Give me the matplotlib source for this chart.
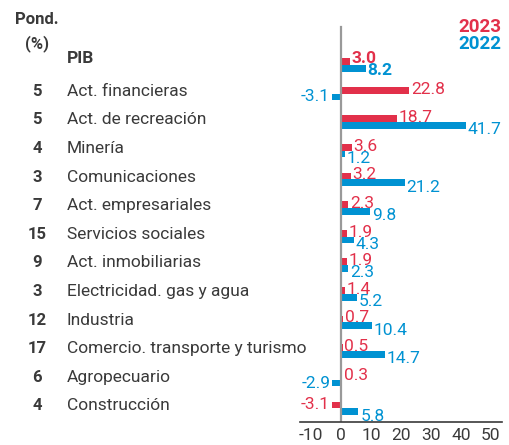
import numpy as np
import matplotlib.pyplot as plt
from matplotlib.transforms import blended_transform_factory

plt.rcParams['font.family'] = ['Roboto', 'DejaVu Sans']
plt.rcParams['axes.unicode_minus'] = False

# datos
sectores = ['PIB', 'Act. financieras', 'Act. de recreación', 'Minería', 'Comunicaciones',
            'Act. empresariales', 'Servicios sociales', 'Act. inmobiliarias',
            'Electricidad. gas y agua', 'Industria', 'Comercio. transporte y turismo',
            'Agropecuario', 'Construcción']
pond = ['', '5', '5', '4', '3', '7', '15', '9', '3', '12', '17', '6', '4']
v2023 = [3.0, 22.8, 18.7, 3.6, 3.2, 2.3, 1.9, 1.9, 1.4, 0.7, 0.5, 0.3, -3.1]
v2022 = [8.2, -3.1, 41.7, 1.2, 21.2, 9.8, 4.3, 2.3, 5.2, 10.4, 14.7, -2.9, 5.8]
ticks = [-10, 0, 10, 20, 30, 40, 50]

rojo = '#E2304A'
azul = '#0092D2'
gris = '#3a3a3a'

W, H = 509, 445
fig = plt.figure(figsize=(W/100, H/100), dpi=100)
ax = fig.add_axes([300/W, 1-422/H, 202/W, 402/H])

y = np.arange(len(sectores))
h = 0.235
ax.barh(y - h/2, v2023, height=h, color=rojo)
ax.barh(y + h/2, v2022, height=h, color=azul)

ax.set_xlim(-13.7, 53.7)
ax.set_ylim(12.48, -1.57)
ax.axvline(0, ymin=0, ymax=0.982, color='#999999', lw=1.6)

for s in ['top', 'right', 'left']:
    ax.spines[s].set_visible(False)
ax.spines['bottom'].set_color(gris)
ax.spines['bottom'].set_linewidth(1.2)
ax.set_yticks([])
ax.set_xticks(ticks)
ax.tick_params(axis='x', length=0, labelsize=12.5, colors=gris, pad=4)

# etiquetas de valores: 2023 encima, 2022 debajo; negativas centradas en la barra
fs = 12.5
for i in range(len(sectores)):
    peso = 'bold' if i == 0 else 'normal'
    extra = 0.08 if i == 0 else 0.0
    for val, yy, va, yc, col in [(v2023[i], i - extra, 'baseline', i - h/2, rojo),
                                 (v2022[i], i + 0.01 - extra, 'top', i + h/2, azul)]:
        if val >= 0:
            ax.text(val + 0.6, yy, f'{val:.1f}', color=col, fontsize=fs,
                    ha='left', va=va, fontweight=peso)
        else:
            ax.text(val - 0.6, yc, f'{val:.1f}', color=col, fontsize=fs,
                    ha='right', va='center', fontweight=peso)

tr = blended_transform_factory(fig.transFigure, ax.transData)
for i in range(len(sectores)):
    if i == 0:
        ax.text(67/W, i - 0.24, sectores[i], transform=tr, fontsize=12.5,
                fontweight='bold', color=gris, va='center', ha='left', clip_on=False)
    else:
        ax.text(67/W, i - 0.08, sectores[i], transform=tr, fontsize=12.5,
                color=gris, va='center', ha='left', clip_on=False)
        ax.text(37/W, i - 0.08, pond[i], transform=tr, fontsize=12,
                fontweight='bold', color=gris, va='center', ha='center', clip_on=False)

fig.text(37/W, 1-20/H, 'Pond.', fontsize=12, fontweight='bold', color=gris,
         ha='center', va='center')
fig.text(37/W, 1-44/H, '(%)', fontsize=12, fontweight='bold', color=gris,
         ha='center', va='center')
fig.text(501/W, 1-27/H, '2023', fontsize=13.5, fontweight='bold', color=rojo,
         ha='right', va='center')
fig.text(501/W, 1-44/H, '2022', fontsize=13.5, fontweight='bold', color=azul,
         ha='right', va='center')

fig.savefig('out.png', dpi=100)
